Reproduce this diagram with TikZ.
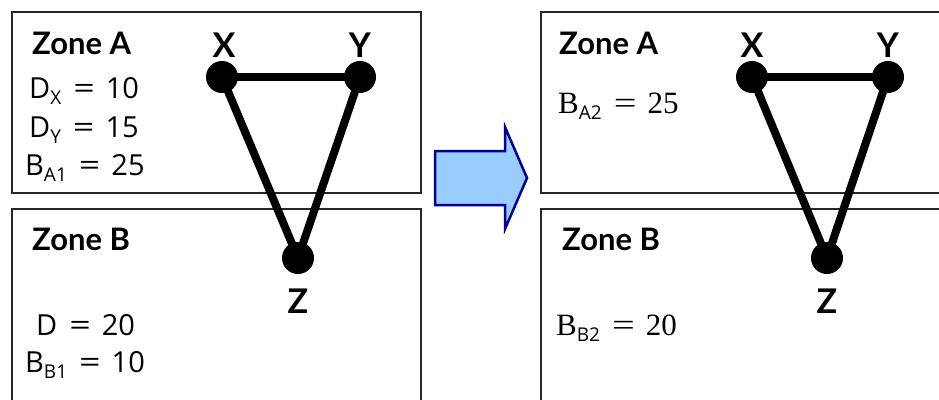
\documentclass[tikz,border=0pt]{standalone}
\usepackage{fontspec}
\setmainfont{Lato}
\newfontfamily\serifrm{Liberation Serif}
\newfontfamily\eqfont{Open Sans}
\newcommand{\sbs}[1]{\raisebox{-6pt}{\fontsize{19}{19}\selectfont\eqfont #1}}
\newcommand{\weq}{\hspace{12pt}\scalebox{1.3}[1]{=}\hspace{11pt}}
\begin{document}
\begin{tikzpicture}[x=1pt,y=-1pt,
  zonebox/.style={draw=black!85, line width=1.5pt},
  vert/.style={circle, fill=black, inner sep=0pt, minimum size=32pt},
  edge/.style={line width=8pt, black},
  vlabel/.style={font=\fontsize{34}{34}\selectfont\bfseries, anchor=base},
  zonetitle/.style={font=\fontsize{31}{31}\selectfont\bfseries, anchor=base west, inner sep=0pt},
  eqtext/.style={font=\fontsize{29}{29}\selectfont\eqfont, anchor=base west, inner sep=0pt},
  eqserif/.style={font=\fontsize{31}{31}\selectfont\serifrm, anchor=base west, inner sep=0pt},
  bigarrow/.style={draw=blue!60!black, line width=2.5pt, fill={rgb,255:red,153;green,204;blue,255}, line join=miter}]
\useasboundingbox (0,0) rectangle (939,399);
\clip (0,0) rectangle (939,399);
% boxes
\draw[zonebox] (12,12) rectangle (421,193);
\draw[zonebox] (12,209) rectangle (421,430);
\draw[zonebox] (541,12) rectangle (960,193);
\draw[zonebox] (541,209) rectangle (960,430);
% left texts
\node[zonetitle] (za1) at (32,54) {Zone A};
\node[eqtext] (dx) at (29,98) {D\sbs{X}\weq 10};
\node[eqtext] (dy) at (29,137) {D\sbs{Y}\weq 15};
\node[eqtext] (ba1) at (25,175) {B\sbs{A1}\weq 25};
\node[zonetitle] (zb1) at (32,250) {Zone B};
\node[eqtext] (d1) at (36,335) {D\weq 20};
\node[eqtext] (bb1) at (25,372) {B\sbs{B1}\weq 10};
% right texts
\node[zonetitle] (za2) at (559,54) {Zone A};
\node[eqserif] (ba2) at (558,113) {B\sbs{A2}\weq 25};
\node[zonetitle] (zb2) at (562,250) {Zone B};
\node[eqserif] (bb2) at (556,335) {B\sbs{B2}\weq 20};
% left graph
\node[vert] (x1) at (222,77) {};
\node[vert] (y1) at (360,77) {};
\node[vert] (z1) at (298,258) {};
\draw[edge] (x1.center) -- (y1.center);
\draw[edge] (x1.center) -- (z1.center);
\draw[edge] (y1.center) -- (z1.center);
\node[vlabel] (lx1) at (224,57) {X};
\node[vlabel] (ly1) at (360,57) {Y};
\node[vlabel] (lz1) at (298,313) {Z};
% right graph
\node[vert] (x2) at (752,77) {};
\node[vert] (y2) at (888,77) {};
\node[vert] (z2) at (827,258) {};
\draw[edge] (x2.center) -- (y2.center);
\draw[edge] (x2.center) -- (z2.center);
\draw[edge] (y2.center) -- (z2.center);
\node[vlabel] (lx2) at (752,57) {X};
\node[vlabel] (ly2) at (888,57) {Y};
\node[vlabel] (lz2) at (827,313) {Z};
% arrow
\draw[bigarrow] (435,151) -- (505,151) -- (505,127) -- (527,178) -- (505,229) -- (505,205) -- (435,205) -- cycle;
\end{tikzpicture}
\end{document}
